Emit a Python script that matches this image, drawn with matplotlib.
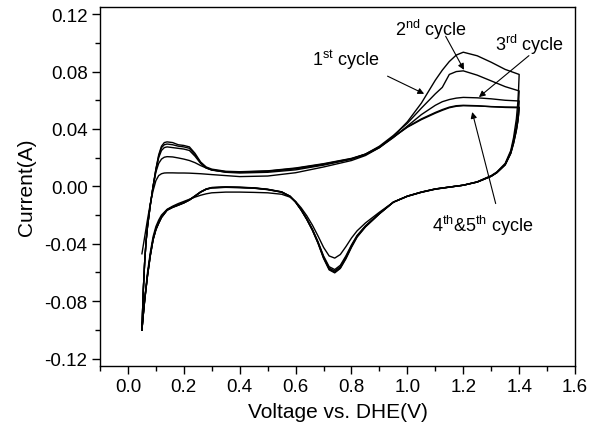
import matplotlib
matplotlib.use("Agg")
import matplotlib.pyplot as plt
from matplotlib.ticker import MultipleLocator, FormatStrFormatter

plt.rcParams['font.family'] = ['Liberation Sans', 'DejaVu Sans']
plt.rcParams['mathtext.fontset'] = 'custom'
plt.rcParams['mathtext.rm'] = 'Liberation Sans'
plt.rcParams['mathtext.it'] = 'Liberation Sans'

# ---------------- data ----------------
V_fwd = [0.05, 0.055, 0.06, 0.065, 0.07, 0.08, 0.09, 0.10, 0.11, 0.12,
         0.13, 0.14, 0.16, 0.18, 0.20, 0.22, 0.24, 0.26, 0.28, 0.30,
         0.35, 0.40, 0.50, 0.60, 0.70, 0.80, 0.85, 0.90, 0.95, 1.00,
         1.05, 1.10, 1.125, 1.15, 1.175, 1.20, 1.25, 1.30, 1.35, 1.40]

fwd1 = [-0.047, -0.041, -0.035, -0.029, -0.023, -0.012, -0.003, 0.004, 0.0075, 0.0088,
        0.0093, 0.0094, 0.0094, 0.0093, 0.0093, 0.0092, 0.0090, 0.0088, 0.0085, 0.0082,
        0.0075, 0.0068, 0.0072, 0.0095, 0.0135, 0.0180, 0.0215, 0.0270, 0.0350, 0.0450,
        0.0580, 0.0740, 0.0810, 0.0870, 0.0915, 0.0935, 0.0910, 0.0865, 0.0815, 0.0780]
fwd2 = [-0.100, -0.072, -0.052, -0.038, -0.028, -0.013, 0.000, 0.010, 0.016, 0.019,
        0.0203, 0.0207, 0.0205, 0.0198, 0.0190, 0.0180, 0.0165, 0.0145, 0.0128, 0.0115,
        0.0098, 0.0093, 0.0098, 0.0115, 0.0148, 0.0190, 0.0225, 0.0280, 0.0355, 0.0440,
        0.0545, 0.0645, 0.0690, 0.0780, 0.0800, 0.0805, 0.0775, 0.0735, 0.0695, 0.0665]
fwd3 = [-0.100, -0.072, -0.052, -0.038, -0.028, -0.013, 0.000, 0.011, 0.020, 0.025,
        0.027, 0.0275, 0.027, 0.0265, 0.026, 0.025, 0.021, 0.016, 0.0128, 0.0113,
        0.0100, 0.0098, 0.0104, 0.0122, 0.0152, 0.0190, 0.0220, 0.0270, 0.0340, 0.0420,
        0.0500, 0.0565, 0.0590, 0.0605, 0.0615, 0.0620, 0.0617, 0.0610, 0.0600, 0.0595]
fwd4 = [-0.100, -0.072, -0.052, -0.038, -0.028, -0.013, 0.000, 0.012, 0.021, 0.027,
        0.029, 0.0295, 0.029, 0.028, 0.0275, 0.0265, 0.022, 0.0165, 0.013, 0.0115,
        0.0102, 0.0100, 0.0106, 0.0125, 0.0155, 0.0193, 0.0223, 0.0273, 0.0343, 0.0412,
        0.0465, 0.0510, 0.0530, 0.0548, 0.0558, 0.0562, 0.0560, 0.0556, 0.0553, 0.0552]
fwd5 = [-0.100, -0.072, -0.052, -0.038, -0.028, -0.013, 0.000, 0.012, 0.022, 0.028,
        0.0305, 0.031, 0.0305, 0.029, 0.0285, 0.0275, 0.023, 0.017, 0.0135, 0.012,
        0.0105, 0.0102, 0.0108, 0.0128, 0.0158, 0.0195, 0.0225, 0.0275, 0.0345, 0.0415,
        0.0470, 0.0515, 0.0535, 0.0552, 0.0562, 0.0565, 0.0562, 0.0555, 0.0550, 0.0548]

V_rev = [1.40, 1.398, 1.395, 1.39, 1.38, 1.37, 1.35, 1.32, 1.30, 1.25,
         1.20, 1.15, 1.10, 1.05, 1.00, 0.95, 0.90, 0.85, 0.82, 0.80,
         0.78, 0.76, 0.74, 0.72, 0.70, 0.68, 0.66, 0.64, 0.62, 0.60,
         0.58, 0.55, 0.50, 0.45, 0.40, 0.35, 0.30, 0.28, 0.26, 0.24,
         0.22, 0.20, 0.18, 0.16, 0.14, 0.12, 0.11, 0.10, 0.09, 0.08,
         0.07, 0.06, 0.055, 0.05]

rev1 = [0.0780, 0.068, 0.058, 0.047, 0.034, 0.025, 0.016, 0.010, 0.0075, 0.0032,
        0.0008, -0.0006, -0.0020, -0.0042, -0.0070, -0.0110, -0.0180, -0.0255, -0.0310, -0.0360,
        -0.0420, -0.0475, -0.0500, -0.0485, -0.0425, -0.0345, -0.0270, -0.0205, -0.0150, -0.0105,
        -0.0075, -0.0055, -0.0045, -0.0042, -0.0040, -0.0040, -0.0045, -0.0052, -0.0062, -0.0075,
        -0.0090, -0.0105, -0.0120, -0.0138, -0.0160, -0.0200, -0.0235, -0.0280, -0.0350, -0.0460,
        -0.0600, -0.0780, -0.0885, -0.1000]
rev2 = [0.0665, 0.058, 0.050, 0.042, 0.032, 0.024, 0.0155, 0.0098, 0.0072, 0.0031,
        0.0008, -0.0005, -0.0019, -0.0041, -0.0069, -0.0110, -0.0188, -0.0275, -0.0342, -0.0408,
        -0.0485, -0.0550, -0.0580, -0.0560, -0.0485, -0.0385, -0.0298, -0.0225, -0.0162, -0.0108,
        -0.0068, -0.0038, -0.0020, -0.0010, -0.0006, -0.0004, -0.0008, -0.0018, -0.0038, -0.0066,
        -0.0093, -0.0113, -0.0128, -0.0143, -0.0163, -0.0212, -0.0252, -0.0297, -0.0367, -0.0478,
        -0.0618, -0.0788, -0.0890, -0.1000]
rev3 = [0.0595, 0.053, 0.046, 0.040, 0.031, 0.0235, 0.0152, 0.0096, 0.0071, 0.0030,
        0.0008, -0.0005, -0.0018, -0.0040, -0.0068, -0.0110, -0.0189, -0.0278, -0.0346, -0.0414,
        -0.0492, -0.0560, -0.0590, -0.0570, -0.0492, -0.0390, -0.0302, -0.0228, -0.0164, -0.0109,
        -0.0069, -0.0039, -0.0021, -0.0011, -0.0007, -0.0005, -0.0009, -0.0019, -0.0039, -0.0067,
        -0.0094, -0.0114, -0.0129, -0.0144, -0.0164, -0.0214, -0.0254, -0.0299, -0.0369, -0.0480,
        -0.0620, -0.0790, -0.0890, -0.1000]
rev4 = [0.0552, 0.050, 0.045, 0.039, 0.030, 0.023, 0.015, 0.0095, 0.0070, 0.0030,
        0.0008, -0.0005, -0.0018, -0.0040, -0.0068, -0.0110, -0.0190, -0.0280, -0.0350, -0.0420,
        -0.0500, -0.0568, -0.0598, -0.0577, -0.0498, -0.0393, -0.0304, -0.0230, -0.0165, -0.0110,
        -0.0070, -0.0040, -0.0022, -0.0012, -0.0008, -0.0006, -0.0010, -0.0020, -0.0040, -0.0068,
        -0.0095, -0.0115, -0.0131, -0.0146, -0.0166, -0.0216, -0.0256, -0.0301, -0.0371, -0.0482,
        -0.0622, -0.0792, -0.0892, -0.1000]
rev5 = [0.0548, 0.050, 0.045, 0.039, 0.030, 0.023, 0.015, 0.0095, 0.0070, 0.0030,
        0.0008, -0.0005, -0.0018, -0.0040, -0.0068, -0.0110, -0.0192, -0.0283, -0.0354, -0.0425,
        -0.0505, -0.0572, -0.0603, -0.0582, -0.0502, -0.0396, -0.0306, -0.0231, -0.0166, -0.0111,
        -0.0071, -0.0041, -0.0023, -0.0013, -0.0009, -0.0007, -0.0011, -0.0021, -0.0041, -0.0069,
        -0.0096, -0.0116, -0.0132, -0.0147, -0.0167, -0.0218, -0.0258, -0.0303, -0.0373, -0.0484,
        -0.0624, -0.0794, -0.0894, -0.1000]

forward_sweeps = [fwd1, fwd2, fwd3, fwd4, fwd5]
reverse_sweeps = [rev1, rev2, rev3, rev4, rev5]

labels = [r'1$^{\mathrm{st}}$ cycle', r'2$^{\mathrm{nd}}$ cycle',
          r'3$^{\mathrm{rd}}$ cycle', r'4$^{\mathrm{th}}$&5$^{\mathrm{th}}$ cycle']
label_pos = [(0.78, 0.0885), (1.085, 0.1100), (1.438, 0.0993), (1.27, -0.0266)]
arrow_tail = [(0.929, 0.0768), (1.137, 0.1046), (1.435, 0.0911), (1.316, -0.0120)]
arrow_head = [(1.060, 0.0645), (1.2025, 0.0812), (1.256, 0.0622), (1.232, 0.0518)]

# ---------------- figure ----------------
fig = plt.figure(figsize=(5.89, 4.35), dpi=100)
ax = fig.add_axes([0.1698, 0.157, 0.8065, 0.8246])

for f, r in zip(forward_sweeps, reverse_sweeps):
    ax.plot(V_fwd + V_rev, f + r, color='black', lw=1.0)

for lab, pos in zip(labels, label_pos):
    ax.text(pos[0], pos[1], lab, fontsize=13, ha='center', va='center')
for t, h in zip(arrow_tail, arrow_head):
    ax.annotate('', xy=h, xytext=t,
                arrowprops=dict(arrowstyle='-|>', lw=0.8, color='black',
                                mutation_scale=9, shrinkA=0, shrinkB=0))

ax.set_xlim(-0.1, 1.6)
ax.set_ylim(-0.125, 0.125)
ax.xaxis.set_major_locator(MultipleLocator(0.2))
ax.xaxis.set_minor_locator(MultipleLocator(0.1))
ax.yaxis.set_major_locator(MultipleLocator(0.04))
ax.yaxis.set_minor_locator(MultipleLocator(0.02))
ax.xaxis.set_major_formatter(FormatStrFormatter('%.1f'))
ax.yaxis.set_major_formatter(FormatStrFormatter('%.2f'))
ax.tick_params(which='major', direction='out', length=6, width=1.0, labelsize=13.5, pad=3)
ax.tick_params(which='minor', direction='out', length=3.5, width=1.0)
ax.tick_params(top=False, right=False, which='both')
for s in ax.spines.values():
    s.set_linewidth(1.0)

ax.set_xlabel('Voltage vs. DHE(V)', fontsize=15, labelpad=5)
ax.set_ylabel('Current(A)', fontsize=15, labelpad=6)

fig.savefig('out.png', dpi=100)
